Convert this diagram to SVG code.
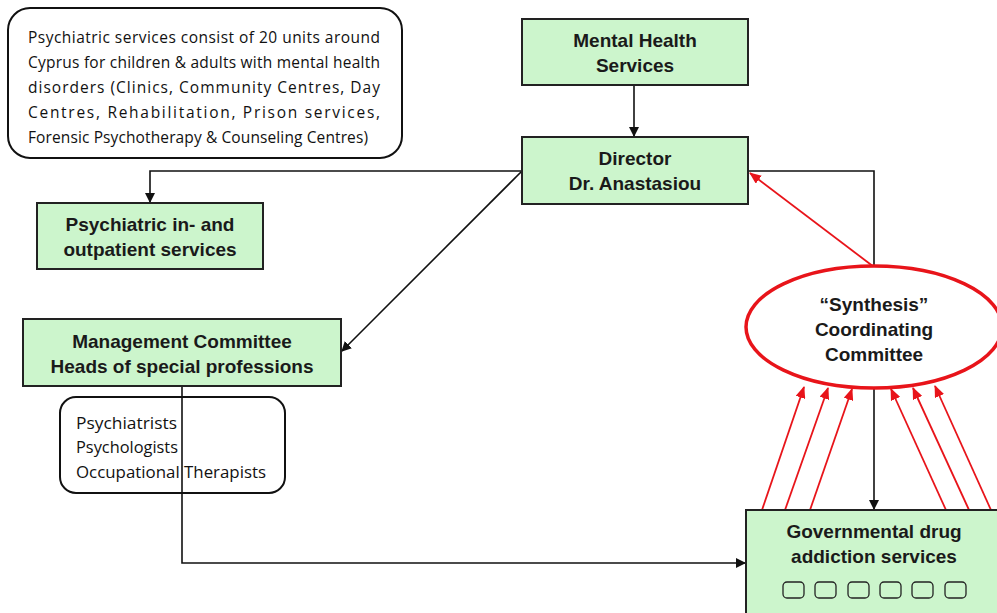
<svg xmlns="http://www.w3.org/2000/svg" width="997" height="613" viewBox="0 0 997 613">
<defs>
<style>
.box{fill:#ccf5cc;stroke:#222;stroke-width:2}
.note{fill:#fff;stroke:#111;stroke-width:2}
.t{font-family:"Liberation Sans",Arial,sans-serif;font-weight:bold;font-size:19px;fill:#1a1a1a;text-anchor:middle}
.c{font-family:"Open Sans","DejaVu Sans",sans-serif;font-size:15.5px;fill:#111}
.bk{fill:none;stroke:#111;stroke-width:1.6}
.rd{fill:none;stroke:#e8141a;stroke-width:1.8}
.sq{fill:none;stroke:#222;stroke-width:1.3}
</style>
<marker id="ab" markerWidth="10" markerHeight="10" refX="9" refY="5" orient="auto" markerUnits="userSpaceOnUse"><path d="M0,0 L10,5 L0,10 z" fill="#111"/></marker>
<marker id="ar" markerWidth="12" markerHeight="10" refX="11" refY="5" orient="auto" markerUnits="userSpaceOnUse"><path d="M0,0 L12,5 L0,10 z" fill="#e8141a"/></marker>
</defs>
<rect width="997" height="613" fill="#fff"/>

<g id="connectors">
<line class="bk" x1="634" y1="85" x2="634" y2="136" marker-end="url(#ab)"/>
<polyline class="bk" points="522,171 150,171 150,202" marker-end="url(#ab)"/>
<line class="bk" x1="522" y1="171" x2="342" y2="351" marker-end="url(#ab)"/>
<polyline class="bk" points="182,386 182,563 745,563" marker-end="url(#ab)"/>
<polyline class="bk" points="748,171 874,171 874,267"/>
<line class="bk" x1="874" y1="388" x2="874" y2="509" marker-end="url(#ab)"/>
<line class="rd" x1="874" y1="267" x2="750" y2="173" marker-end="url(#ar)"/>
<line class="rd" x1="762" y1="510" x2="804" y2="387" marker-end="url(#ar)"/>
<line class="rd" x1="785" y1="510" x2="828" y2="388" marker-end="url(#ar)"/>
<line class="rd" x1="810" y1="510" x2="852" y2="389" marker-end="url(#ar)"/>
<line class="rd" x1="946" y1="510" x2="891" y2="389" marker-end="url(#ar)"/>
<line class="rd" x1="969" y1="510" x2="913" y2="388" marker-end="url(#ar)"/>
<line class="rd" x1="991" y1="510" x2="935" y2="386" marker-end="url(#ar)"/>
</g>

<g id="note-services">
<rect class="note" x="8" y="8" width="394" height="150" rx="22"/>
<text class="c" x="28" y="43" textLength="352" lengthAdjust="spacing">Psychiatric services consist of 20 units around</text>
<text class="c" x="28" y="68" textLength="352" lengthAdjust="spacing">Cyprus for children &amp; adults with mental health</text>
<text class="c" x="28" y="93" textLength="352" lengthAdjust="spacing">disorders (Clinics, Community Centres, Day</text>
<text class="c" x="28" y="118" textLength="352" lengthAdjust="spacing">Centres, Rehabilitation, Prison services,</text>
<text class="c" x="28" y="143" textLength="340" lengthAdjust="spacing">Forensic Psychotherapy &amp; Counseling Centres)</text>
</g>

<g id="mental-health">
<rect class="box" x="522" y="19" width="226" height="66"/>
<text class="t" x="635" y="47">Mental Health</text>
<text class="t" x="635" y="72">Services</text>
</g>

<g id="director">
<rect class="box" x="522" y="137" width="226" height="67"/>
<text class="t" x="635" y="165">Director</text>
<text class="t" x="635" y="190">Dr. Anastasiou</text>
</g>

<g id="psychiatric">
<rect class="box" x="37" y="203" width="226" height="66"/>
<text class="t" x="150" y="231">Psychiatric in- and</text>
<text class="t" x="150" y="256">outpatient services</text>
</g>

<g id="management">
<rect class="box" x="23" y="319" width="318" height="67"/>
<text class="t" x="182" y="348">Management Committee</text>
<text class="t" x="182" y="373">Heads of special professions</text>
</g>

<g id="professions">
<rect class="note" x="60" y="397" width="225" height="96" rx="16"/>
<text class="c" x="76" y="429" textLength="101" lengthAdjust="spacingAndGlyphs">Psychiatrists</text>
<text class="c" x="76" y="453" textLength="102" lengthAdjust="spacingAndGlyphs">Psychologists</text>
<text class="c" x="76" y="478" textLength="190" lengthAdjust="spacingAndGlyphs">Occupational Therapists</text>
</g>
<line class="bk" x1="182" y1="397" x2="182" y2="493"/>

<g id="synthesis">
<ellipse cx="874" cy="327" rx="128" ry="61" fill="#fff" stroke="#e8141a" stroke-width="3.5"/>
<text class="t" x="874" y="311">“Synthesis”</text>
<text class="t" x="874" y="336">Coordinating</text>
<text class="t" x="874" y="361">Committee</text>
</g>

<g id="governmental">
<rect class="box" x="746" y="510" width="260" height="110"/>
<text class="t" x="874" y="538">Governmental drug</text>
<text class="t" x="874" y="563">addiction services</text>
<rect class="sq" x="783" y="582" width="21" height="16" rx="4"/>
<rect class="sq" x="815" y="582" width="21" height="16" rx="4"/>
<rect class="sq" x="848" y="582" width="21" height="16" rx="4"/>
<rect class="sq" x="880" y="582" width="21" height="16" rx="4"/>
<rect class="sq" x="912" y="582" width="21" height="16" rx="4"/>
<rect class="sq" x="945" y="582" width="21" height="16" rx="4"/>
</g>
</svg>
